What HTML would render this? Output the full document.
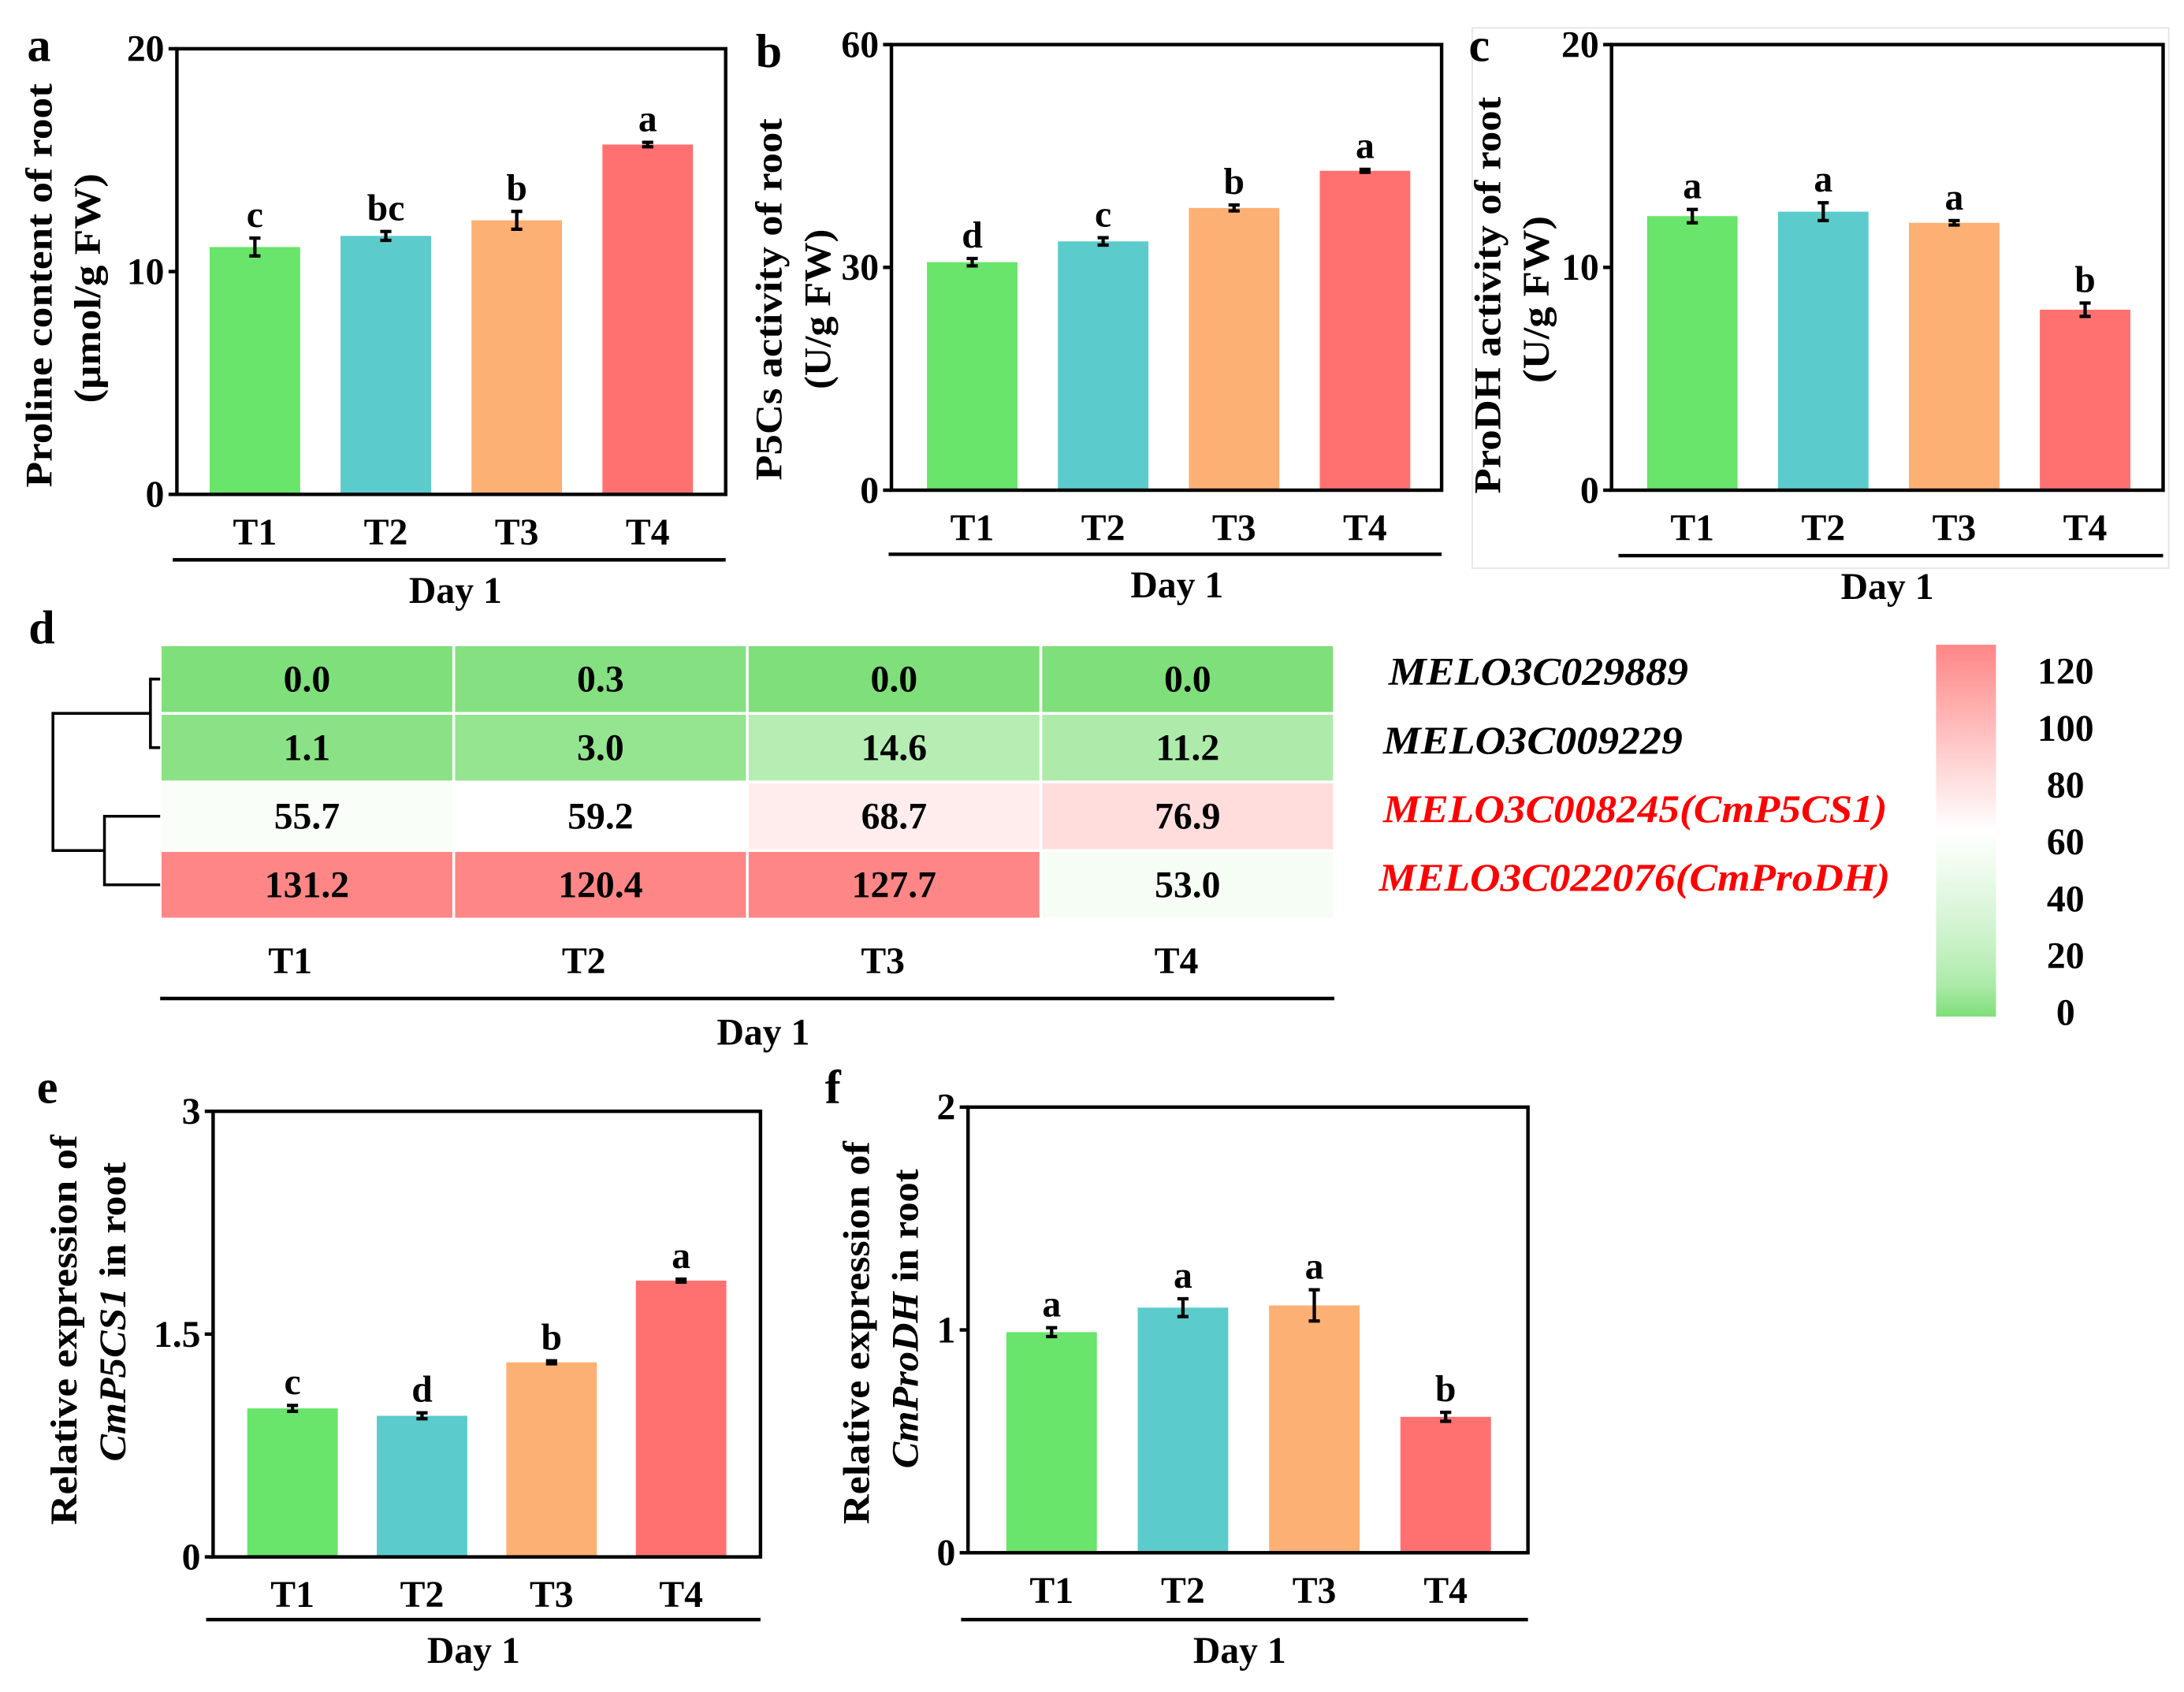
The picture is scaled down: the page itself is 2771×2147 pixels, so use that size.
<!DOCTYPE html>
<html><head><meta charset="utf-8"><style>
html,body{margin:0;padding:0;background:#fff;}
svg{display:block;font-family:"Liberation Serif",serif;font-weight:bold;}
</style></head><body>
<svg id="fig" width="2771" height="2147" viewBox="0 0 1568 1215" preserveAspectRatio="none" xmlns="http://www.w3.org/2000/svg">
<rect x="1057" y="20" width="500" height="388" fill="none" stroke="#e4e4e4" stroke-width="1"/>
<g id="root"></g>
</svg>
<script>
const NS="http://www.w3.org/2000/svg";
const root=document.getElementById('root');
function el(tag,attrs,parent,txt){const e=document.createElementNS(NS,tag);for(const k in attrs)e.setAttribute(k,attrs[k]);if(txt!==undefined)e.textContent=txt;(parent||root).appendChild(e);return e;}

const categories=["T1","T2","T3","T4"];
const barColors=["#68e56a","#5ccbcb","#fdb073","#ff7170"];
// panel a
const aValues=[11.1,11.6,12.3,15.7];
const aErrors=[0.4,0.2,0.4,0.1];
const aLetters=["c","bc","b","a"];
const aTicks=[0,10,20];
// panel b
const bValues=[30.7,33.5,38.0,43.0];
const bErrors=[0.5,0.5,0.4,0.2];
const bLetters=["d","c","b","a"];
const bTicks=[0,30,60];
// panel c
const cValues=[12.3,12.5,12.0,8.1];
const cErrors=[0.3,0.4,0.1,0.3];
const cLetters=["a","a","a","b"];
const cTicks=[0,10,20];
// panel e
const eValues=[1.0,0.95,1.31,1.86];
const eErrors=[0.02,0.02,0.01,0.01];
const eLetters=["c","d","b","a"];
const eTicks=[0,1.5,3];
// panel f
const fValues=[0.99,1.10,1.11,0.61];
const fErrors=[0.02,0.04,0.07,0.02];
const fLetters=["a","a","a","b"];
const fTicks=[0,1,2];
// heatmap
const genes=["MELO3C029889","MELO3C009229","MELO3C008245(CmP5CS1)","MELO3C022076(CmProDH)"];
const geneColors=["#000","#000","#ff0000","#ff0000"];
const heatValues=[[0.0,0.3,0.0,0.0],[1.1,3.0,14.6,11.2],[55.7,59.2,68.7,76.9],[131.2,120.4,127.7,53.0]];
const colorbarTicks=[0,20,40,60,80,100,120];

function barPanel(p){
  const g=el('g',{},root);
  
  
  const max=p.ticks[p.ticks.length-1];
  const y=v=>p.y1-(v/max)*(p.y1-p.y0);
  const xc=i=>p.c0+p.step*i;
  categories.forEach((c,i)=>{
    const v=p.values[i],e=p.errors[i];
    const r=el('rect',{x:xc(i)-p.bw/2,y:y(v),width:p.bw,height:p.y1-y(v),fill:barColors[i]},g);
    
    
    const eb=el('path',{d:`M${xc(i)-4},${y(v+e)}H${xc(i)+4}M${xc(i)},${y(v+e)}V${y(v-e)}M${xc(i)-4},${y(v-e)}H${xc(i)+4}`,stroke:'#000','stroke-width':2.4,fill:'none'},g);
    
    
    const lt=el('text',{x:xc(i),y:y(v+e)-8,'text-anchor':'middle','font-size':27},g,p.letters[i]);
    
    
    const tl=el('text',{x:xc(i),y:p.y1+36,'text-anchor':'middle','font-size':27},g,c);
    
    
  });
  const box=el('rect',{x:p.x0,y:p.y0,width:p.x1-p.x0,height:p.y1-p.y0,fill:'none',stroke:'#000','stroke-width':2.5},g);
  
  
  p.ticks.forEach(t=>{
    el('line',{x1:p.x0-6,x2:p.x0,y1:y(t),y2:y(t),stroke:'#000','stroke-width':2.5},g);
    const tt=el('text',{x:p.x0-9,y:y(t)+9,'text-anchor':'end','font-size':27},g,String(t));
    
    
  });
  const ul=el('line',{x1:p.ux0,x2:p.x1,y1:p.uy,y2:p.uy,stroke:'#000','stroke-width':2.5},g);
  
  
  const dl=el('text',{x:p.dx,y:p.uy+31,'text-anchor':'middle','font-size':27},g,'Day 1');
  
  
  const pl=el('text',{x:p.lx,y:p.ly,'text-anchor':'middle','font-size':34},g,p.id);
  
  
  p.title.forEach((t,k)=>{
    const cy=p.ty[k];
    const tx=el('text',{x:p.tx[k],y:cy,'text-anchor':'middle','font-size':27,textLength:p.tl[k],lengthAdjust:'spacingAndGlyphs',transform:`rotate(-90 ${p.tx[k]} ${cy})`},g);
    
    
    t.forEach(s=>{el('tspan',s[1]?{'font-style':'italic'}:{},tx,s[0]);});
  });
}
barPanel({id:'a',x0:127,x1:521,y0:35,y1:355,bw:65,c0:183,step:94,values:aValues,errors:aErrors,letters:aLetters,ticks:aTicks,ux0:124,uy:402,dx:327,lx:28,ly:44,tx:[37,72],ty:[205,207],tl:[290,165],title:[[["Proline content of root"]],[["(μmol/g FW)"]]]});
barPanel({id:'b',x0:640,x1:1035,y0:32,y1:352,bw:65,c0:698,step:94,values:bValues,errors:bErrors,letters:bLetters,ticks:bTicks,ux0:638,uy:398,dx:845,lx:552,ly:48,tx:[561,596],ty:[215,222],tl:[260,115],title:[[["P5Cs activity of root"]],[["(U/g FW)"]]]});
barPanel({id:'c',x0:1157,x1:1553,y0:32,y1:352,bw:65,c0:1215,step:94,values:cValues,errors:cErrors,letters:cLetters,ticks:cTicks,ux0:1162,uy:399,dx:1355,lx:1062,ly:44,tx:[1077,1112],ty:[212,215],tl:[285,120],title:[[["ProDH activity of root"]],[["(U/g FW)"]]]});
barPanel({id:'e',x0:153,x1:546,y0:798,y1:1118,bw:65,c0:210,step:93,values:eValues,errors:eErrors,letters:eLetters,ticks:eTicks,ux0:148,uy:1163,dx:340,lx:34,ly:792,tx:[55,90],ty:[955,942],tl:[280,215],title:[[["Relative expression of"]],[["CmP5CS1",true],[" in root"]]]});
barPanel({id:'f',x0:695,x1:1097,y0:795,y1:1115,bw:65,c0:755,step:94.3,values:fValues,errors:fValues.map((v,i)=>fErrors[i]),letters:fLetters,ticks:fTicks,ux0:690,uy:1163,dx:890,lx:598,ly:792,tx:[624,659],ty:[957,947],tl:[275,215],title:[[["Relative expression of"]],[["CmProDH",true],[" in root"]]]});

// heatmap panel d
function heatColor(v){
  const g=[127,223,122],w=[255,255,255],r=[255,134,134];
  let a,b,t;
  if(v<=60){a=g;b=w;t=Math.pow(Math.max(0,v)/60,0.6);}else{a=w;b=r;t=Math.min(1,(v-60)/60);}
  return `rgb(${a.map((c,i)=>Math.round(c+(b[i]-c)*t)).join(',')})`;
}
const hd=el('g',{},root);


const hx0=115,hx1=958,hy0=463,hy1=660;
const cw=(hx1-hx0)/4,rh=(hy1-hy0)/4;
const geneX=[997,993,993,990];
const geneLen=[215,215,362,367];
heatValues.forEach((row,ri)=>{
  row.forEach((v,ci)=>{
    const c=el('rect',{x:hx0+ci*cw+1,y:hy0+ri*rh+1,width:cw-2,height:rh-2,fill:heatColor(v)},hd);
    
    
    const t=el('text',{x:hx0+(ci+0.5)*cw,y:hy0+(ri+0.5)*rh+9,'text-anchor':'middle','font-size':27},hd,v.toFixed(1));
    
    
  });
  const gl=el('text',{x:geneX[ri],y:hy0+(ri+0.5)*rh+4,'font-size':28,'font-style':'italic',fill:geneColors[ri],textLength:geneLen[ri],lengthAdjust:'spacingAndGlyphs'},hd,genes[ri]);
  
  
});
categories.forEach((c,i)=>{
  const t=el('text',{x:hx0+(i+0.5)*cw-(i<2?12:8),y:699,'text-anchor':'middle','font-size':27},hd,c);
  
  
});
el('line',{x1:hx0,x2:hx1,y1:717,y2:717,stroke:'#000','stroke-width':2.5},hd);
const hdl=el('text',{x:548,y:750,'text-anchor':'middle','font-size':27},hd,'Day 1');


const dlab=el('text',{x:30,y:462,'text-anchor':'middle','font-size':34},hd,'d');


const rc=i=>hy0+(i+0.5)*rh;
const den=el('path',{d:`M115,${rc(0)}H108V${rc(1)}H115M108,${(rc(0)+rc(1))/2}H38V${(rc(2)+rc(3))/2}H75M115,${rc(2)}H75V${rc(3)}H115`,stroke:'#000','stroke-width':2,fill:'none'},hd);


const cbx=1390,cbw=43,cby0=463,cby1=730;
const grad=el('linearGradient',{id:'cbg',x1:0,y1:1,x2:0,y2:0},hd);
[0,10,20,30,40,50,60,80,100,120].forEach(v=>el('stop',{offset:v/120,'stop-color':heatColor(v)},grad));
const cb=el('rect',{x:cbx,y:cby0,width:cbw,height:cby1-cby0,fill:'url(#cbg)'},hd);


colorbarTicks.forEach(t=>{
  const yy=cby1-3-(t/120)*(cby1-cby0-22);
  const tt=el('text',{x:1483,y:yy+9,'text-anchor':'middle','font-size':27},hd,String(t));
  
  
});
</script>
</body></html>
